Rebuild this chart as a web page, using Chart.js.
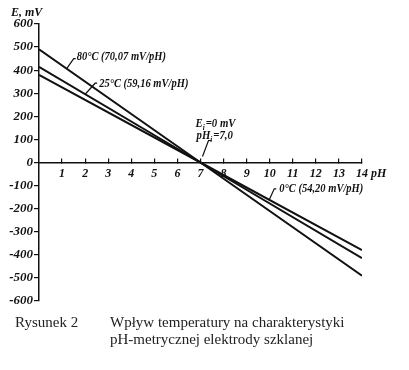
<!DOCTYPE html>
<html>
<head>
<meta charset="utf-8">
<script src="https://cdn.jsdelivr.net/npm/chart.js@4.4.0/dist/chart.umd.min.js"></script>
<style>
  body { margin: 0; background: #fff; }
  #wrap { position: relative; width: 409px; height: 370px; }
  .cap { position: absolute; font-family: "Liberation Serif", serif; font-size: 15px; color: #222; white-space: nowrap; }
</style>
</head>
<body>
<div id="wrap">
  <canvas id="chart" width="409" height="370"></canvas>
  <div class="cap" style="left:15px; top:314px;">Rysunek 2</div>
  <div class="cap" style="left:110px; top:314px;">Wpływ temperatury na charakterystyki</div>
  <div class="cap" style="left:110px; top:331px;">pH-metrycznej elektrody szklanej</div>
</div>
<script>
// pH values where the lines are drawn
var pH = [0, 7, 14];
// E in mV for each temperature
var e80 = [490.5, 0, -490.5];
var e25 = [414.1, 0, -414.1];
var e0 = [379.4, 0, -379.4];
var seriesNames = ['80°C (70,07 mV/pH)', '25°C (59,16 mV/pH)', '0°C (54,20 mV/pH)'];
var yTicks = [-600, -500, -400, -300, -200, -100, 0, 100, 200, 300, 400, 500, 600];
var xTicks = [1, 2, 3, 4, 5, 6, 7, 8, 9, 10, 11, 12, 13, 14];

var fontFam = '"Liberation Serif", "Times New Roman", serif';

function pts(ys) {
  return pH.map(function(x, i) { return {x: x, y: ys[i]}; });
}

// labels with leader lines: [series index, pH on the line, leader dx, dy, text dx, dy]
var notes = [
  [0, 1.2, 7, -10, 10, -12],
  [1, 2.0, 10, -11, 14, -11],
  [2, 9.98, 5, -11, 10, -11]
];

// text squeezed a little sideways, like the scanned figure
function sqText(ctx, txt, x, y, sx) {
  ctx.save();
  ctx.translate(x, y);
  ctx.scale(sx, 1);
  ctx.fillText(txt, 0, 0);
  ctx.restore();
  return ctx.measureText(txt).width * sx;
}

var notePlugin = {
  id: 'notes',
  afterDatasetsDraw: function(chart) {
    var ctx = chart.ctx;
    var xs = chart.scales.x, ys = chart.scales.y;
    var big = 'italic bold 13px ' + fontFam;
    var small = 'italic bold 8px ' + fontFam;
    ctx.save();
    ctx.fillStyle = '#111';
    ctx.strokeStyle = '#111';
    ctx.lineWidth = 1.2;
    ctx.textBaseline = 'middle';
    ctx.textAlign = 'left';
    ctx.font = big;
    var data = [e80, e25, e0];
    notes.forEach(function(n) {
      var d = data[n[0]];
      var e = d[0] + (d[2] - d[0]) * (n[1] - pH[0]) / (pH[2] - pH[0]);
      var px = xs.getPixelForValue(n[1]), py = ys.getPixelForValue(e);
      ctx.beginPath();
      ctx.moveTo(px, py);
      ctx.lineTo(px + n[2], py + n[3]);
      ctx.lineTo(px + n[2] + 2, py + n[3]);
      ctx.stroke();
      sqText(ctx, seriesNames[n[0]], px + n[4], py + n[5], 0.81);
    });

    // axis titles
    ctx.font = 'italic bold 12px ' + fontFam;
    ctx.fillText('E, mV', 11, 13);
    ctx.fillText('pH', xs.getPixelForValue(14) + 9, ys.getPixelForValue(0) + 11);

    // isopotential point
    var ix = xs.getPixelForValue(7), iy = ys.getPixelForValue(0);
    function sub(main, s, rest, x, y) {
      ctx.font = big;
      var w = sqText(ctx, main, x, y, 0.83);
      ctx.font = small;
      var w2 = sqText(ctx, s, x + w, y + 4, 0.9);
      ctx.font = big;
      sqText(ctx, rest, x + w + w2 + 1, y, 0.83);
    }
    sub('E', 'i', '=0 mV', ix - 5, iy - 39);
    sub('pH', 'i', '=7,0', ix - 4, iy - 27);
    ctx.beginPath();
    ctx.moveTo(ix + 11, iy - 22);
    ctx.lineTo(ix + 8, iy - 22);
    ctx.lineTo(ix + 2, iy - 6);
    ctx.stroke();
    ctx.restore();
  }
};

new Chart(document.getElementById('chart'), {
  type: 'scatter',
  data: {
    datasets: [
      {label: seriesNames[0], data: pts(e80)},
      {label: seriesNames[1], data: pts(e25)},
      {label: seriesNames[2], data: pts(e0)}
    ].map(function(d) {
      d.showLine = true;
      d.borderColor = '#111';
      d.borderWidth = 2;
      d.pointRadius = 0;
      d.fill = false;
      return d;
    })
  },
  options: {
    responsive: false,
    animation: false,
    layout: {padding: {left: 0, right: 47, top: 24, bottom: 69}},
    plugins: {legend: {display: false}, tooltip: {enabled: false}},
    scales: {
      x: {
        type: 'linear',
        position: {y: 0},
        min: 0, max: 14,
        afterFit: function(s) { s.height = 0; },
        afterBuildTicks: function(s) { s.ticks = xTicks.map(function(v) { return {value: v}; }); },
        grid: {drawOnChartArea: false, drawTicks: true, tickLength: -5, color: '#111', lineWidth: 1.2},
        border: {display: true, color: '#111', width: 1.5},
        ticks: {padding: 9, color: '#111', maxRotation: 0, autoSkip: false,
                font: {family: fontFam, size: 12, style: 'italic', weight: 'bold'}}
      },
      y: {
        type: 'linear',
        min: -600, max: 600,
        afterFit: function(s) { s.width = 39; },
        afterBuildTicks: function(s) { s.ticks = yTicks.map(function(v) { return {value: v}; }); },
        grid: {drawOnChartArea: false, drawTicks: true, tickLength: 5, color: '#111', lineWidth: 1.2},
        border: {display: true, color: '#111', width: 1.5},
        ticks: {padding: 1, color: '#111', autoSkip: false,
                font: {family: fontFam, size: 13, style: 'italic', weight: 'bold'}}
      }
    }
  },
  plugins: [notePlugin]
});
</script>
</body>
</html>
